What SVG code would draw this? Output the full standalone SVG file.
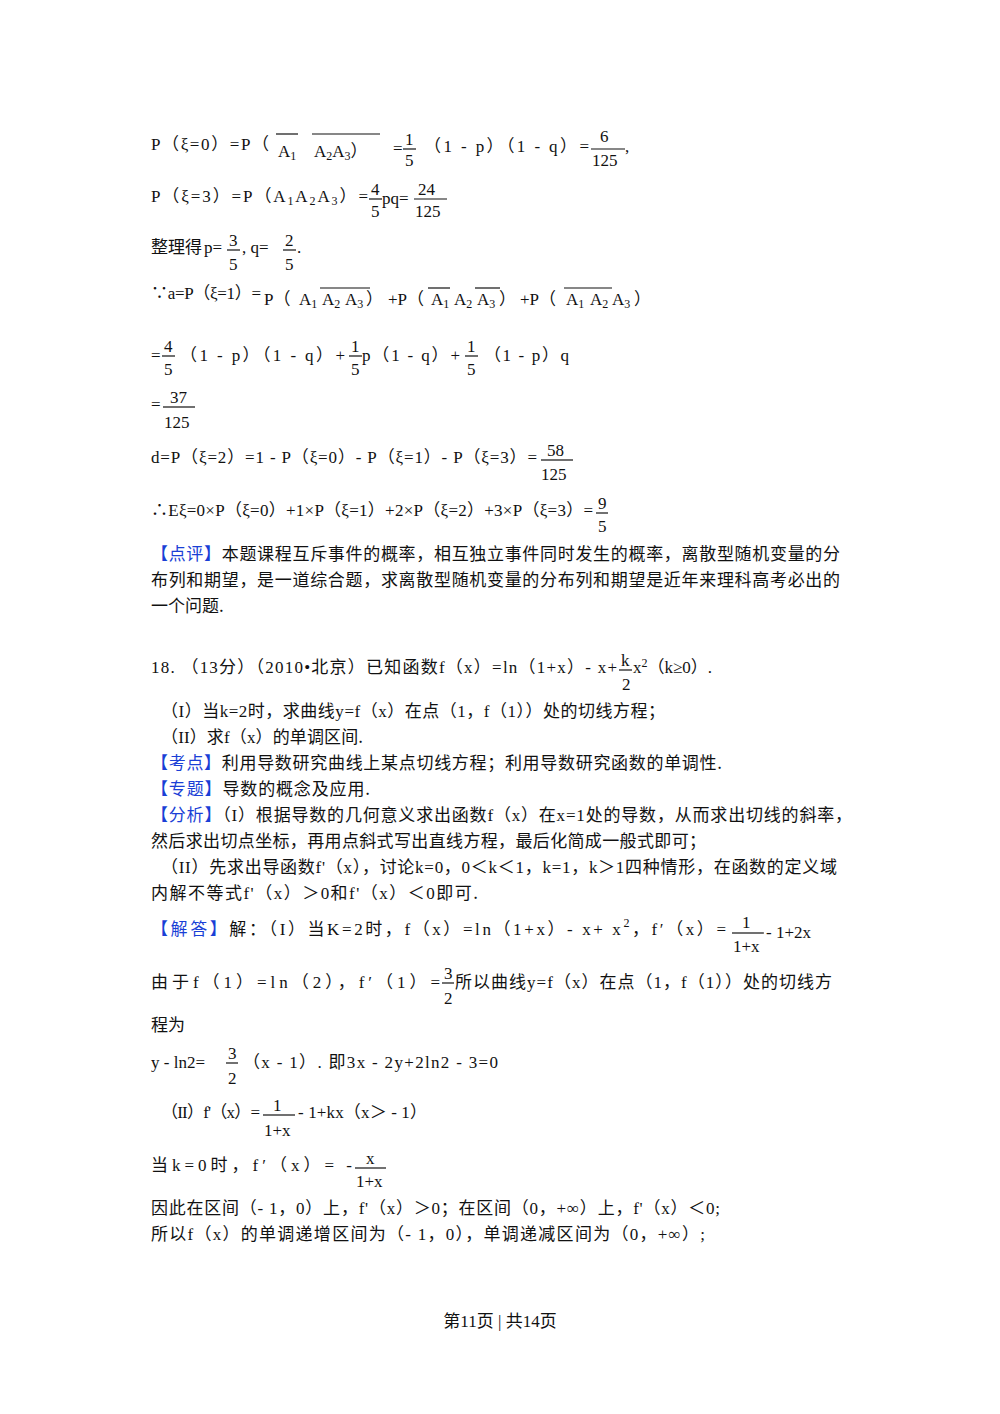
<svg xmlns="http://www.w3.org/2000/svg" width="1000" height="1414" viewBox="0 0 1000 1414">
<style>
text{font-family:"Liberation Serif","Noto Sans CJK SC",serif;font-size:17px;fill:#111}
.c{font-family:"Noto Sans CJK SC","Liberation Sans",sans-serif;font-size:17px}
.b{fill:#1a3fd6}
.s{font-size:12px}
line{stroke:#111;stroke-width:1.2}
</style>
<rect width="1000" height="1414" fill="#fff"/>
<g id="l1">
<text x="151" y="150" textLength="118" lengthAdjust="spacing">P（ξ=0）=P（</text>
<text x="278" y="157">A<tspan class="s" dy="3">1</tspan></text>
<line x1="276" y1="134" x2="298" y2="134"/>
<text x="314" y="157">A<tspan class="s" dy="3">2</tspan><tspan dy="-3">A</tspan><tspan class="s" dy="3">3</tspan><tspan dy="-3">）</tspan></text>
<line x1="312" y1="134" x2="380" y2="134"/>
<text x="393" y="154">=</text>
<text x="405" y="145">1</text><line x1="403" y1="149" x2="416" y2="149"/><text x="405" y="166">5</text>
<text x="424" y="152" textLength="165" lengthAdjust="spacing">（1 - p）（1 - q）=</text>
<text x="600" y="142">6</text><line x1="591" y1="149" x2="625" y2="149"/><text x="592" y="166">125</text>
<text x="625" y="152">,</text>
</g>
<g id="l2">
<text x="151" y="202" textLength="217" lengthAdjust="spacing">P（ξ=3）=P（A<tspan class="s" dy="3">1</tspan><tspan dy="-3">A</tspan><tspan class="s" dy="3">2</tspan><tspan dy="-3">A</tspan><tspan class="s" dy="3">3</tspan><tspan dy="-3">）=</tspan></text>
<text x="371" y="195">4</text><line x1="369" y1="199" x2="382" y2="199"/><text x="371" y="217">5</text>
<text x="382" y="204">pq=</text>
<text x="418" y="195">24</text><line x1="414" y1="199" x2="447" y2="199"/><text x="415" y="217">125</text>
</g>
<g id="l3">
<text class="c" x="151" y="253">整理得</text><text x="204" y="253">p=</text>
<text x="229" y="246">3</text><line x1="227" y1="250" x2="240" y2="250"/><text x="229" y="270">5</text>
<text x="242" y="253">,  q=</text>
<text x="285" y="246">2</text><line x1="283" y1="250" x2="296" y2="250"/><text x="285" y="270">5</text>
<text x="297" y="253">.</text>
</g>
<g id="l4">
<text x="151" y="299" textLength="110" lengthAdjust="spacing">∵a=P（ξ=1）=</text>
<text x="264" y="305">P（</text>
<text x="299" y="305">A<tspan class="s" dy="3">1</tspan></text><text x="322" y="305">A<tspan class="s" dy="3">2</tspan></text><text x="345" y="305">A<tspan class="s" dy="3">3</tspan></text><text x="366" y="305">）</text>
<text x="388" y="305">+P（</text>
<text x="431" y="305">A<tspan class="s" dy="3">1</tspan></text><text x="454" y="305">A<tspan class="s" dy="3">2</tspan></text><text x="477" y="305">A<tspan class="s" dy="3">3</tspan></text><text x="499" y="305">）</text>
<text x="520" y="305">+P（</text>
<text x="566" y="305">A<tspan class="s" dy="3">1</tspan></text><text x="590" y="305">A<tspan class="s" dy="3">2</tspan></text><text x="612" y="305">A<tspan class="s" dy="3">3</tspan></text><text x="634" y="305">）</text>
<line x1="320" y1="288" x2="370" y2="288"/>
<line x1="428" y1="288" x2="450" y2="288"/><line x1="475" y1="288" x2="500" y2="288"/>
<line x1="564" y1="288" x2="612" y2="288"/>
</g>
<g id="l5">
<text x="151" y="361">=</text>
<text x="164" y="352">4</text><line x1="162" y1="356" x2="175" y2="356"/><text x="164" y="375">5</text>
<text x="180" y="361" textLength="165" lengthAdjust="spacing">（1 - p）（1 - q）+</text>
<text x="351" y="352">1</text><line x1="349" y1="356" x2="362" y2="356"/><text x="351" y="375">5</text>
<text x="362" y="361" textLength="98" lengthAdjust="spacing">p（1 - q）+</text>
<text x="467" y="352">1</text><line x1="465" y1="356" x2="478" y2="356"/><text x="467" y="375">5</text>
<text x="484" y="361" textLength="85" lengthAdjust="spacing">（1 - p）q</text>
</g>
<g id="l6">
<text x="151" y="410">=</text>
<text x="170" y="403">37</text><line x1="163" y1="407" x2="195" y2="407"/><text x="164" y="428">125</text>
</g>
<g id="l7">
<text x="151" y="463" textLength="386" lengthAdjust="spacing">d=P（ξ=2）=1 - P（ξ=0）- P（ξ=1）- P（ξ=3）=</text>
<text x="547" y="456">58</text><line x1="541" y1="460" x2="573" y2="460"/><text x="541" y="480">125</text>
</g>
<g id="l8">
<text x="151" y="516" textLength="442" lengthAdjust="spacing">∴Eξ=0×P（ξ=0）+1×P（ξ=1）+2×P（ξ=2）+3×P（ξ=3）=</text>
<text x="598" y="509">9</text><line x1="596" y1="513" x2="608" y2="513"/><text x="598" y="532">5</text>
</g>
<g id="p1">
<text class="c" x="151" y="560" textLength="689" lengthAdjust="spacing"><tspan class="b">【点评】</tspan>本题课程互斥事件的概率，相互独立事件同时发生的概率，离散型随机变量的分</text>
<text class="c" x="151" y="586" textLength="689" lengthAdjust="spacing">布列和期望，是一道综合题，求离散型随机变量的分布列和期望是近年来理科高考必出的</text>
<text class="c" x="151" y="612">一个问题.</text>
</g>
<g id="q18">
<text x="151" y="673" textLength="466" lengthAdjust="spacing">18.  （13<tspan class="c">分</tspan>）（2010•<tspan class="c">北京</tspan>）<tspan class="c">已知函数</tspan>f（x）=ln（1+x）- x+</text>
<text x="621" y="666">k</text><line x1="619" y1="670" x2="632" y2="670"/><text x="622" y="690">2</text>
<text x="633" y="673">x<tspan class="s" dy="-6">2</tspan><tspan dy="6">（k≥0）.</tspan></text>
<text x="161" y="717" textLength="504" lengthAdjust="spacing">（I）<tspan class="c">当</tspan>k=2<tspan class="c">时，求曲线</tspan>y=f（x）<tspan class="c">在点</tspan>（1，f（1））<tspan class="c">处的切线方程；</tspan></text>
<text x="161" y="743" textLength="202" lengthAdjust="spacing">（II）<tspan class="c">求</tspan>f（x）<tspan class="c">的单调区间.</tspan></text>
<text class="c" x="151" y="769" textLength="571" lengthAdjust="spacing"><tspan class="b">【考点】</tspan>利用导数研究曲线上某点切线方程；利用导数研究函数的单调性.</text>
<text class="c" x="151" y="795" textLength="219" lengthAdjust="spacing"><tspan class="b">【专题】</tspan>导数的概念及应用.</text>
<text x="151" y="821" textLength="701" lengthAdjust="spacing"><tspan class="c b">【分析】</tspan>（I）<tspan class="c">根据导数的几何意义求出函数</tspan>f（x）<tspan class="c">在</tspan>x=1<tspan class="c">处的导数，从而求出切线的斜率，</tspan></text>
<text class="c" x="151" y="847" textLength="555" lengthAdjust="spacing">然后求出切点坐标，再用点斜式写出直线方程，最后化简成一般式即可；</text>
<text x="161" y="873" textLength="676" lengthAdjust="spacing">（II）<tspan class="c">先求出导函数</tspan>f'（x），<tspan class="c">讨论</tspan>k=0，0＜k＜1，k=1，k＞1<tspan class="c">四种情形，在函数的定义域</tspan></text>
<text x="151" y="899" textLength="327" lengthAdjust="spacing"><tspan class="c">内解不等式</tspan>f'（x）＞0<tspan class="c">和</tspan>f'（x）＜0<tspan class="c">即可.</tspan></text>
</g>
<g id="sol">
<text x="151" y="935" textLength="575" lengthAdjust="spacing"><tspan class="c b">【解答】</tspan><tspan class="c">解：</tspan>（I）<tspan class="c">当</tspan>K=2<tspan class="c">时，</tspan>f（x）=ln（1+x）- x+ x<tspan class="s" dy="-8">2</tspan><tspan dy="8">，f′（x）=</tspan></text>
<text x="742" y="928">1</text><line x1="732" y1="933" x2="764" y2="933"/><text x="733" y="952">1+x</text>
<text x="766" y="938">- 1+2x</text>
<text x="151" y="988" textLength="289" lengthAdjust="spacing"><tspan class="c">由于</tspan>f（1）=ln（2），f′（1）=</text>
<text x="444" y="979">3</text><line x1="442" y1="983" x2="454" y2="983"/><text x="444" y="1004">2</text>
<text x="455" y="988" textLength="377" lengthAdjust="spacing"><tspan class="c">所以曲线</tspan>y=f（x）<tspan class="c">在点</tspan>（1，f（1））<tspan class="c">处的切线方</tspan></text>
<text class="c" x="151" y="1031">程为</text>
<text x="151" y="1068">y - ln2=</text>
<text x="228" y="1059">3</text><line x1="226" y1="1063" x2="238" y2="1063"/><text x="228" y="1084">2</text>
<text x="243" y="1068" textLength="255" lengthAdjust="spacing">（x - 1）. <tspan class="c">即</tspan>3x - 2y+2ln2 - 3=0</text>
<text x="161" y="1118" textLength="99" lengthAdjust="spacing">（II）f'（x）=</text>
<text x="273" y="1111">1</text><line x1="263" y1="1115" x2="295" y2="1115"/><text x="264" y="1136">1+x</text>
<text x="298" y="1118" textLength="129" lengthAdjust="spacing">- 1+kx（x＞ - 1）</text>
<text x="151" y="1171" textLength="201" lengthAdjust="spacing"><tspan class="c">当</tspan>k=0<tspan class="c">时，</tspan>f′（x）= -</text>
<text x="366" y="1164">x</text><line x1="355" y1="1168" x2="386" y2="1168"/><text x="356" y="1187">1+x</text>
<text x="151" y="1214" textLength="569" lengthAdjust="spacing"><tspan class="c">因此在区间</tspan>（- 1，0）<tspan class="c">上，</tspan>f'（x）＞0<tspan class="c">；在区间</tspan>（0，+∞）<tspan class="c">上，</tspan>f'（x）＜0;</text>
<text x="151" y="1240" textLength="554" lengthAdjust="spacing"><tspan class="c">所以</tspan>f（x）<tspan class="c">的单调递增区间为</tspan>（- 1，0），<tspan class="c">单调递减区间为</tspan>（0，+∞）;</text>
</g>
<g id="footer">
<text x="500" y="1327" text-anchor="middle"><tspan class="c">第</tspan>11<tspan class="c">页</tspan> | <tspan class="c">共</tspan>14<tspan class="c">页</tspan></text>
</g>
</svg>
